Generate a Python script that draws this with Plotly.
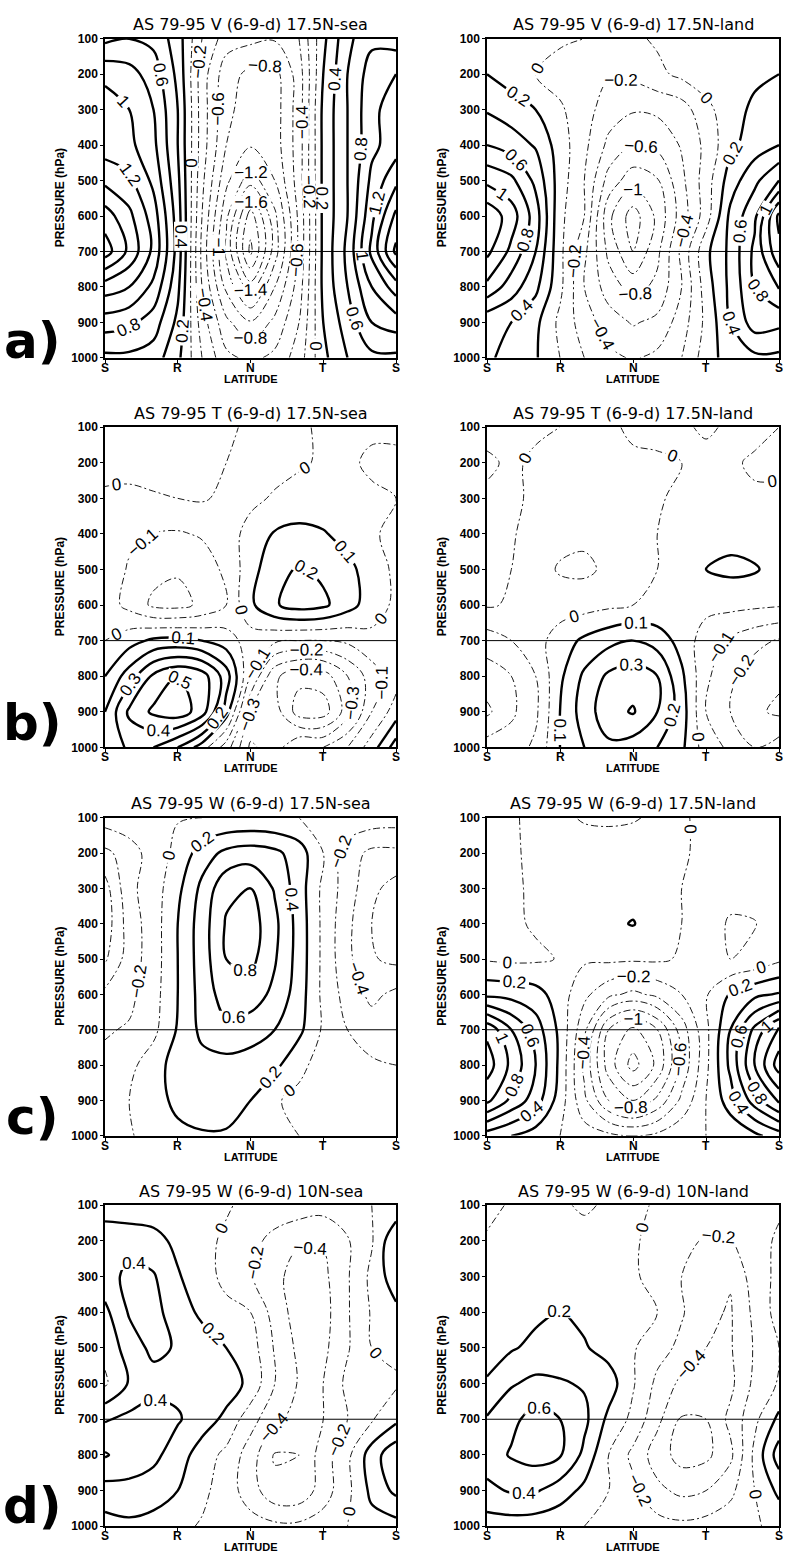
import plotly.graph_objects as go

# ---------------- data ----------------
PHASE_POS = [0, 1, 2, 3, 4, 5, 6, 7, 8, 9, 10, 11, 12]
PHASE_TICKS = [0, 3, 6, 9, 12]
PHASE_LABELS = ["S", "R", "N", "T", "S"]
PRESSURE = [100, 200, 300, 400, 500, 600, 700, 800, 900, 1000]
PRESSURE_TICKS = [100, 200, 300, 400, 500, 600, 700, 800, 900, 1000]
REF_LEVEL = 700

# rows: pressure levels (100 -> 1000 hPa); columns: phase positions S..R..N..T..S
V_SEA_175 = [
    [0.55, 0.6, 0.55, 0.3, -0.2, -0.5, -0.55, -0.58, -0.4, 0.15, 0.55, 0.75, 0.7],
    [0.95, 0.88, 0.7, 0.35, -0.3, -0.72, -0.85, -0.88, -0.5, 0.2, 0.6, 0.9, 1.0],
    [1.1, 1.0, 0.8, 0.4, -0.3, -0.75, -0.9, -0.9, -0.5, 0.25, 0.6, 0.95, 1.1],
    [1.1, 1.05, 0.85, 0.4, -0.3, -0.8, -0.98, -0.9, -0.5, 0.25, 0.6, 0.95, 1.1],
    [1.35, 1.25, 0.95, 0.45, -0.35, -0.95, -1.32, -1.0, -0.5, 0.25, 0.6, 1.05, 1.35],
    [1.7, 1.45, 1.1, 0.5, -0.4, -1.15, -1.9, -1.25, -0.55, 0.25, 0.6, 1.15, 1.65],
    [1.9, 1.55, 1.15, 0.52, -0.45, -1.25, -2.05, -1.3, -0.55, 0.25, 0.65, 1.25, 1.85],
    [1.3, 1.2, 0.95, 0.45, -0.4, -1.05, -1.52, -1.0, -0.5, 0.25, 0.6, 1.0, 1.3],
    [0.9, 0.85, 0.7, 0.35, -0.3, -0.75, -0.98, -0.75, -0.4, 0.2, 0.5, 0.8, 0.9],
    [0.55, 0.55, 0.5, 0.25, -0.2, -0.55, -0.65, -0.55, -0.3, 0.15, 0.4, 0.55, 0.55],
]
V_LAND_175 = [
    [0.1, 0.08, 0.06, 0.03, 0.0, -0.06, -0.04, 0.03, 0.05, 0.05, 0.03, 0.05, 0.1],
    [0.2, 0.1, 0.0, -0.08, -0.15, -0.18, -0.15, -0.05, 0.05, 0.1, 0.12, 0.15, 0.2],
    [0.38, 0.3, 0.2, 0.03, -0.12, -0.3, -0.38, -0.36, -0.3, -0.05, 0.1, 0.25, 0.3],
    [0.6, 0.5, 0.38, 0.1, -0.15, -0.45, -0.6, -0.55, -0.38, -0.15, 0.15, 0.3, 0.4],
    [0.95, 0.85, 0.55, 0.1, -0.2, -0.68, -0.92, -0.82, -0.45, -0.1, 0.3, 0.55, 0.8],
    [1.35, 1.1, 0.7, 0.05, -0.2, -0.95, -1.3, -0.95, -0.5, -0.1, 0.45, 0.75, 1.45],
    [1.25, 0.95, 0.6, 0.05, -0.35, -0.85, -1.2, -0.85, -0.35, 0.15, 0.45, 0.85, 1.35],
    [0.95, 0.7, 0.45, 0.05, -0.4, -0.7, -0.88, -0.75, -0.4, 0.1, 0.45, 0.8, 1.02],
    [0.45, 0.4, 0.25, -0.05, -0.3, -0.5, -0.62, -0.55, -0.3, 0.05, 0.4, 0.7, 0.65],
    [0.45, 0.3, 0.22, 0.0, -0.2, -0.35, -0.42, -0.35, -0.2, 0.1, 0.3, 0.35, 0.35],
]
T_SEA_175 = [
    [0.03, 0.02, 0.03, 0.04, 0.03, 0.01, -0.01, -0.02, -0.01, 0.01, 0.02, 0.01, 0.02],
    [0.02, 0.03, 0.04, 0.04, 0.03, 0.0, -0.02, -0.03, -0.01, 0.01, 0.01, -0.01, -0.02],
    [-0.01, -0.02, -0.01, 0.0, 0.01, -0.02, -0.02, 0.01, 0.03, 0.03, 0.02, 0.01, 0.0],
    [-0.03, -0.08, -0.1, -0.11, -0.09, -0.04, 0.03, 0.11, 0.13, 0.11, 0.06, 0.01, -0.02],
    [-0.04, -0.11, -0.17, -0.19, -0.15, -0.08, 0.06, 0.17, 0.21, 0.18, 0.13, 0.05, -0.02],
    [-0.05, -0.13, -0.22, -0.23, -0.18, -0.1, 0.08, 0.19, 0.24, 0.22, 0.14, 0.05, -0.02],
    [0.0, 0.06, 0.12, 0.13, 0.1, 0.05, -0.05, -0.08, -0.1, -0.1, -0.08, -0.03, 0.0],
    [0.1, 0.25, 0.42, 0.5, 0.45, 0.25, -0.1, -0.38, -0.47, -0.45, -0.3, -0.15, -0.05],
    [0.2, 0.42, 0.52, 0.56, 0.45, 0.15, -0.3, -0.35, -0.55, -0.55, -0.35, -0.1, 0.05],
    [0.22, 0.32, 0.3, 0.2, 0.05, -0.15, -0.42, -0.35, -0.2, -0.2, -0.1, 0.05, 0.25],
]
T_LAND_175 = [
    [0.02, 0.02, 0.01, 0.0, -0.01, -0.01, 0.01, 0.02, 0.01, -0.01, 0.01, 0.02, 0.0],
    [-0.01, 0.01, -0.01, -0.02, -0.03, -0.02, -0.01, -0.01, 0.0, 0.02, 0.01, -0.01, -0.01],
    [0.01, 0.02, -0.02, -0.04, -0.05, -0.04, -0.03, -0.01, 0.02, 0.03, 0.02, 0.01, 0.01],
    [0.01, 0.01, -0.04, -0.07, -0.08, -0.06, -0.03, 0.0, 0.03, 0.06, 0.07, 0.05, 0.03],
    [0.02, 0.0, -0.06, -0.11, -0.12, -0.08, -0.03, 0.0, 0.05, 0.1, 0.12, 0.11, 0.06],
    [0.01, -0.01, -0.04, -0.05, -0.04, -0.02, 0.0, 0.01, 0.02, 0.03, 0.03, 0.02, 0.01],
    [-0.15, -0.1, -0.04, 0.05, 0.12, 0.17, 0.2, 0.16, 0.06, -0.05, -0.12, -0.17, -0.21],
    [-0.25, -0.2, -0.1, 0.08, 0.22, 0.32, 0.35, 0.3, 0.12, -0.08, -0.18, -0.25, -0.28],
    [-0.32, -0.22, -0.12, 0.1, 0.25, 0.36, 0.41, 0.3, 0.15, -0.1, -0.2, -0.28, -0.32],
    [-0.15, -0.15, -0.08, 0.1, 0.2, 0.28, 0.25, 0.2, 0.12, -0.05, -0.12, -0.2, -0.15],
]
W_SEA_175 = [
    [-0.1, -0.06, -0.03, -0.01, 0.0, 0.01, 0.02, 0.01, 0.0, -0.02, -0.05, -0.08, -0.1],
    [-0.45, -0.3, -0.1, 0.05, 0.3, 0.45, 0.5, 0.45, 0.3, 0.0, -0.3, -0.45, -0.45],
    [-0.68, -0.25, -0.1, 0.15, 0.45, 0.75, 0.8, 0.58, 0.3, -0.05, -0.3, -0.55, -0.68],
    [-0.72, -0.3, -0.1, 0.2, 0.5, 0.82, 0.9, 0.65, 0.32, -0.05, -0.35, -0.6, -0.72],
    [-0.63, -0.3, -0.1, 0.2, 0.5, 0.8, 0.86, 0.62, 0.32, -0.05, -0.35, -0.58, -0.65],
    [-0.35, -0.25, -0.08, 0.2, 0.48, 0.7, 0.7, 0.55, 0.3, -0.05, -0.28, -0.45, -0.35],
    [-0.22, -0.18, -0.05, 0.22, 0.45, 0.55, 0.5, 0.4, 0.25, -0.03, -0.2, -0.3, -0.22],
    [-0.15, -0.05, 0.1, 0.3, 0.33, 0.33, 0.3, 0.25, 0.05, -0.08, -0.12, -0.17, -0.2],
    [-0.18, 0.0, 0.12, 0.25, 0.3, 0.28, 0.2, 0.02, -0.05, -0.1, -0.12, -0.15, -0.18],
    [-0.12, -0.02, 0.08, 0.15, 0.18, 0.18, 0.12, 0.05, 0.0, -0.1, -0.1, -0.12, -0.12],
]
W_LAND_175 = [
    [-0.03, -0.01, 0.02, 0.02, -0.01, -0.02, -0.01, 0.02, 0.01, -0.02, -0.04, -0.05, -0.03],
    [-0.05, -0.02, 0.03, 0.05, 0.05, 0.06, 0.06, 0.05, 0.02, -0.04, -0.08, -0.08, -0.05],
    [-0.05, -0.02, 0.02, 0.06, 0.08, 0.1, 0.12, 0.08, 0.0, -0.08, -0.14, -0.12, -0.05],
    [-0.04, -0.03, 0.02, 0.06, 0.12, 0.16, 0.21, 0.1, 0.0, -0.12, -0.22, -0.21, -0.08],
    [-0.02, -0.04, -0.03, 0.01, 0.03, 0.04, 0.03, 0.03, -0.02, -0.1, -0.2, -0.15, -0.04],
    [0.35, 0.33, 0.28, 0.1, -0.15, -0.35, -0.45, -0.35, -0.2, -0.02, 0.22, 0.35, 0.42],
    [1.15, 0.8, 0.5, 0.15, -0.35, -1.0, -1.25, -1.0, -0.5, -0.05, 0.4, 0.85, 1.25],
    [1.3, 0.95, 0.6, 0.15, -0.45, -1.1, -1.48, -1.15, -0.55, -0.05, 0.45, 1.0, 1.5],
    [1.05, 0.75, 0.5, 0.1, -0.35, -0.8, -1.0, -0.75, -0.35, 0.0, 0.3, 0.7, 1.05],
    [0.3, 0.2, 0.1, 0.0, -0.1, -0.15, -0.2, -0.15, -0.05, 0.0, 0.05, 0.15, 0.3],
]
W_SEA_10 = [
    [0.05, 0.06, 0.08, 0.08, 0.05, 0.02, -0.05, -0.1, -0.08, -0.12, -0.08, 0.0, 0.05],
    [0.38, 0.33, 0.27, 0.15, 0.05, -0.03, -0.15, -0.25, -0.38, -0.38, -0.22, -0.02, 0.38],
    [0.32, 0.45, 0.42, 0.22, 0.08, -0.05, -0.18, -0.35, -0.48, -0.45, -0.22, 0.05, 0.32],
    [0.15, 0.42, 0.45, 0.32, 0.15, 0.05, 0.0, -0.28, -0.5, -0.48, -0.22, 0.02, 0.15],
    [0.05, 0.3, 0.45, 0.38, 0.32, 0.2, 0.1, -0.22, -0.45, -0.45, -0.22, 0.0, 0.05],
    [-0.03, 0.22, 0.32, 0.35, 0.34, 0.3, 0.15, -0.2, -0.42, -0.4, -0.15, -0.05, -0.03],
    [0.38, 0.45, 0.5, 0.42, 0.3, 0.15, -0.12, -0.35, -0.48, -0.4, -0.2, -0.02, 0.15],
    [0.62, 0.5, 0.45, 0.3, 0.1, -0.05, -0.3, -0.62, -0.6, -0.3, -0.05, 0.3, 0.55],
    [0.32, 0.35, 0.3, 0.2, 0.05, -0.1, -0.3, -0.55, -0.55, -0.3, -0.05, 0.25, 0.45],
    [0.12, 0.15, 0.12, 0.05, -0.02, -0.08, -0.12, -0.15, -0.15, -0.1, 0.0, 0.12, 0.12],
]
W_LAND_10 = [
    [-0.05, 0.02, 0.04, 0.02, -0.02, 0.02, 0.04, -0.02, -0.04, -0.05, -0.05, -0.02, -0.02],
    [0.02, 0.05, 0.06, 0.06, 0.05, 0.04, 0.02, -0.05, -0.15, -0.22, -0.22, -0.05, 0.02],
    [0.05, 0.08, 0.1, 0.1, 0.08, 0.05, 0.02, -0.05, -0.2, -0.32, -0.38, -0.1, 0.05],
    [0.08, 0.12, 0.16, 0.21, 0.15, 0.1, 0.04, 0.0, -0.18, -0.35, -0.42, -0.15, 0.08],
    [0.12, 0.18, 0.25, 0.28, 0.22, 0.12, 0.02, -0.12, -0.25, -0.4, -0.42, -0.18, 0.0],
    [0.22, 0.38, 0.45, 0.42, 0.38, 0.3, 0.02, -0.25, -0.45, -0.5, -0.45, -0.15, 0.02],
    [0.42, 0.55, 0.68, 0.6, 0.45, 0.15, -0.05, -0.35, -0.62, -0.6, -0.35, -0.05, 0.25],
    [0.5, 0.62, 0.68, 0.62, 0.35, 0.0, -0.25, -0.5, -0.68, -0.65, -0.45, 0.05, 0.5],
    [0.35, 0.42, 0.42, 0.3, 0.15, 0.0, -0.15, -0.35, -0.45, -0.4, -0.25, 0.0, 0.25],
    [0.1, 0.1, 0.08, 0.05, 0.0, -0.05, -0.1, -0.12, -0.15, -0.12, -0.08, -0.02, 0.05],
]

TITLES = [
    "AS 79-95 V (6-9-d) 17.5N-sea", "AS 79-95 V (6-9-d) 17.5N-land",
    "AS 79-95 T (6-9-d) 17.5N-sea", "AS 79-95 T (6-9-d) 17.5N-land",
    "AS 79-95 W (6-9-d) 17.5N-sea", "AS 79-95 W (6-9-d) 17.5N-land",
    "AS 79-95 W (6-9-d) 10N-sea", "AS 79-95 W (6-9-d) 10N-land",
]
FIELDS = [V_SEA_175, V_LAND_175, T_SEA_175, T_LAND_175,
          W_SEA_175, W_LAND_175, W_SEA_10, W_LAND_10]
INTERVALS = [0.2, 0.2, 0.1, 0.1, 0.2, 0.2, 0.2, 0.2]
PANEL_LETTERS = ["a)", "b)", "c)", "d)"]

# ---------------- layout geometry (pixels) ----------------
W, H = 786, 1564
COLS_PX = [(105, 396), (487, 779)]
ROWS_PX = [(32, 354), (424, 747), (818, 1139), (1209, 1533)]
LETTER_Y = [337, 722, 1120, 1513]

def px_x(v):
    return v / W

def px_y(v):
    return 1 - v / H

fig = go.Figure()
annotations = []
shapes = []
layout_axes = {}
TICK_FONT = dict(family="Liberation Sans", size=12, color="black", weight="bold")
LABEL_FONT = dict(family="Liberation Sans", size=17, color="black")

for i, (z, title, dz) in enumerate(zip(FIELDS, TITLES, INTERVALS)):
    r, c = divmod(i, 2)
    n = i + 1
    xa = "x" if n == 1 else f"x{n}"
    ya = "y" if n == 1 else f"y{n}"
    x0p, x1p = COLS_PX[c]
    y0p, y1p = ROWS_PX[r]

    common = dict(x=PHASE_POS, y=PRESSURE, z=z, xaxis=xa, yaxis=ya,
                  autocontour=False, showscale=False, hoverinfo="skip")
    # negative and zero contours: thin dash-dot
    fig.add_trace(go.Contour(
        **common,
        contours=dict(start=-3.0, end=0.0, size=dz, coloring="none",
                      showlabels=True, labelfont=LABEL_FONT),
        line=dict(color="black", width=0.9, dash="7px,3px,2px,3px", smoothing=1.0),
    ))
    # positive contours: thick solid
    fig.add_trace(go.Contour(
        **common,
        contours=dict(start=dz, end=3.0, size=dz, coloring="none",
                      showlabels=True, labelfont=LABEL_FONT),
        line=dict(color="black", width=2.4, dash="solid", smoothing=1.0),
    ))

    layout_axes["xaxis" if n == 1 else f"xaxis{n}"] = dict(
        domain=[px_x(x0p), px_x(x1p)], anchor=ya, range=[PHASE_POS[0], PHASE_POS[-1]],
        tickmode="array", tickvals=PHASE_TICKS, showticklabels=False,
        ticks="outside", ticklen=3, tickcolor="black",
        showline=True, mirror=True, linecolor="black", linewidth=1.5,
        showgrid=False, zeroline=False, fixedrange=True,
    )
    layout_axes["yaxis" if n == 1 else f"yaxis{n}"] = dict(
        domain=[px_y(y1p), px_y(y0p)], anchor=xa, range=[PRESSURE[-1], PRESSURE[0]],
        tickmode="array", tickvals=PRESSURE_TICKS,
        ticks="outside", ticklen=3, tickcolor="black", tickfont=TICK_FONT,
        showline=True, mirror=True, linecolor="black", linewidth=1.5,
        showgrid=False, zeroline=False, fixedrange=True,
    )
    # 700 hPa reference line
    shapes.append(dict(type="line", xref=xa, yref=ya,
                       x0=PHASE_POS[0], x1=PHASE_POS[-1], y0=REF_LEVEL, y1=REF_LEVEL,
                       line=dict(color="black", width=1)))
    # x tick labels tight under the frame
    for tv, tl in zip(PHASE_TICKS, PHASE_LABELS):
        annotations.append(dict(text=tl, xref=xa, yref="paper",
                                x=tv, y=px_y(y1p + 1), showarrow=False,
                                xanchor="center", yanchor="top",
                                font=TICK_FONT))
    xc = (x0p + x1p) / 2
    annotations.append(dict(text=title, xref="paper", yref="paper",
                            x=px_x(xc), y=px_y(y0p - 14), showarrow=False,
                            xanchor="center", yanchor="middle",
                            font=dict(family="DejaVu Sans", size=16, color="black")))
    annotations.append(dict(text="LATITUDE", xref="paper", yref="paper",
                            x=px_x(xc), y=px_y(y1p + 21), showarrow=False,
                            xanchor="center", yanchor="middle",
                            font=dict(family="Liberation Sans", size=11, color="black", weight="bold")))
    annotations.append(dict(text="PRESSURE (hPa)", xref="paper", yref="paper",
                            x=px_x(x0p - 45), y=px_y((y0p + y1p) / 2), showarrow=False,
                            textangle=-90, xanchor="center", yanchor="middle",
                            font=dict(family="Liberation Sans", size=12, color="black", weight="bold")))

for r, letter in enumerate(PANEL_LETTERS):
    annotations.append(dict(text=letter, xref="paper", yref="paper",
                            x=px_x(32), y=px_y(LETTER_Y[r]), showarrow=False,
                            xanchor="center", yanchor="middle",
                            font=dict(family="DejaVu Sans", size=50, color="black", weight="bold")))

fig.update_layout(
    width=W, height=H, margin=dict(l=0, r=0, t=0, b=0),
    paper_bgcolor="white", plot_bgcolor="white",
    showlegend=False, annotations=annotations, shapes=shapes,
    **layout_axes,
)

fig.write_html("out.html")
